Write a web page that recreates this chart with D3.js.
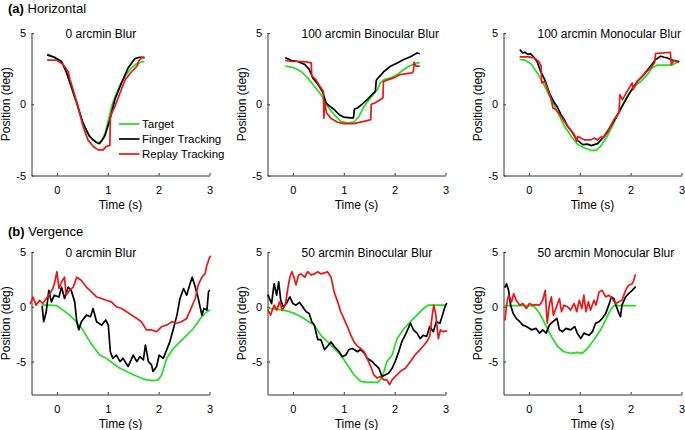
<!DOCTYPE html>
<html><head><meta charset="utf-8">
<script src="https://cdn.jsdelivr.net/npm/d3@7"></script>
<style>
body{margin:0;background:#fff}
svg{display:block}
text{font-family:"Liberation Sans",Arial,Helvetica,sans-serif;fill:#000}
</style>
</head><body>
<svg id="c" width="685" height="430"></svg>
<script>
// ---------- DATA ----------
const sectionLabels = [["(a)", "Horizontal"], ["(b)", "Vergence"]];
const panelTitles = ["0 arcmin Blur", "100 arcmin Binocular Blur", "100 arcmin Monocular Blur",
                     "0 arcmin Blur", "50 arcmin Binocular Blur", "50 arcmin Monocular Blur"];
const seriesNames = ["Target", "Finger Tracking", "Replay Tracking"];
const xTicks = [0, 1, 2, 3];
const yTicks = [-5, 0, 5];
const xDomain = [-0.5, 3];
const yDomainTop = [-5, 5];
const yDomainBottom = [-8, 5];
const xLabel = "Time (s)";
const yLabel = "Position (deg)";

// (a) Horizontal, 0 arcmin blur  [time s, position deg]
const h0_target = [[-0.18,3.5],[-0.05,3.3],[0.1,2.9],[0.2,2.2],[0.3,1.0],[0.4,-0.1],[0.5,-1.2],[0.6,-2.0],[0.7,-2.5],[0.8,-2.7],[0.88,-2.6],[0.95,-2.0],[1.02,-1.0],[1.08,-0.1],[1.15,0.6],[1.25,1.4],[1.35,2.0],[1.45,2.5],[1.55,2.8],[1.65,2.95],[1.71,3.0]];
const h0_finger = [[-0.18,3.45],[-0.05,3.3],[0.09,3.0],[0.18,2.3],[0.28,1.26],[0.39,0.1],[0.51,-1.3],[0.64,-2.25],[0.78,-2.7],[0.84,-2.76],[0.94,-2.25],[1.04,-1.1],[1.14,0.33],[1.27,1.5],[1.4,2.55],[1.53,3.2],[1.63,3.3],[1.71,3.3]];
const h0_replay = [[-0.18,3.1],[-0.01,3.1],[0.12,2.8],[0.22,2.3],[0.26,1.7],[0.32,1.0],[0.41,-0.1],[0.51,-1.5],[0.61,-2.5],[0.71,-2.95],[0.81,-3.2],[0.91,-3.2],[0.97,-2.95],[1.04,-2.9],[1.05,-0.85],[1.14,-0.15],[1.24,0.8],[1.34,1.7],[1.47,2.3],[1.58,2.7],[1.6,3.0],[1.66,3.25],[1.71,3.25]];

// (a) Horizontal, 100 arcmin binocular blur
const h100b_target = [[-0.14,2.67],[0.03,2.55],[0.16,2.3],[0.29,1.85],[0.42,1.26],[0.55,0.68],[0.68,-0.14],[0.81,-0.73],[0.94,-1.2],[1.07,-1.31],[1.2,-1.26],[1.3,-0.84],[1.4,-0.14],[1.53,0.45],[1.66,1.03],[1.72,1.5],[1.79,1.73],[1.92,1.85],[2.05,2.08],[2.18,2.44],[2.31,2.72],[2.44,2.9],[2.48,2.9]];
const h100b_finger = [[-0.14,3.25],[-0.03,3.07],[0.1,3.0],[0.23,2.8],[0.32,2.45],[0.39,1.85],[0.49,1.4],[0.58,0.9],[0.62,0.45],[0.65,0.1],[0.71,-0.1],[0.81,-0.37],[0.91,-0.73],[1.0,-0.9],[1.14,-0.96],[1.19,-0.96],[1.21,-0.33],[1.27,-0.26],[1.36,0],[1.46,0.33],[1.56,0.7],[1.62,0.9],[1.64,1.7],[1.69,1.9],[1.79,2.3],[1.92,2.67],[2.05,2.9],[2.18,3.14],[2.31,3.33],[2.44,3.6],[2.48,3.56]];
const h100b_replay = [[-0.14,3.07],[-0.03,3.0],[0.16,3.0],[0.26,2.97],[0.36,2.9],[0.37,2.0],[0.45,1.73],[0.55,1.15],[0.6,0.9],[0.61,-1.0],[0.62,0.2],[0.66,-0.6],[0.75,-1.0],[0.88,-1.26],[1.0,-1.36],[1.2,-1.36],[1.33,-1.26],[1.46,-1.15],[1.53,-1.08],[1.54,0],[1.62,0.1],[1.72,0.33],[1.77,0.45],[1.78,1.6],[1.88,1.73],[1.98,1.85],[2.11,2.08],[2.24,2.15],[2.34,2.2],[2.37,2.3],[2.38,2.95],[2.42,2.67],[2.48,2.67]];

// (a) Horizontal, 100 arcmin monocular blur
const h100m_target = [[-0.17,3.14],[-0.08,3.1],[0.05,2.8],[0.18,2.1],[0.31,1.26],[0.44,0.33],[0.57,-0.6],[0.7,-1.55],[0.83,-2.25],[0.96,-2.83],[1.09,-3.07],[1.22,-3.23],[1.32,-3.23],[1.41,-2.95],[1.54,-2.25],[1.67,-1.31],[1.8,-0.37],[1.93,0.56],[2.07,1.26],[2.2,1.6],[2.33,2.08],[2.42,2.55],[2.52,2.74],[2.65,2.74],[2.81,2.74],[2.94,3.0]];
const h100m_finger = [[-0.17,3.8],[-0.12,3.6],[-0.08,3.65],[-0.02,3.5],[0.03,3.55],[0.08,3.37],[0.16,3.0],[0.23,2.3],[0.31,1.73],[0.4,0.8],[0.5,0.1],[0.56,-0.2],[0.63,-0.73],[0.7,-1.1],[0.76,-1.55],[0.86,-2.0],[0.94,-2.5],[1.06,-2.83],[1.15,-2.8],[1.22,-2.9],[1.35,-2.76],[1.48,-2.25],[1.61,-1.55],[1.74,-0.73],[1.87,0.1],[2.0,0.9],[2.13,1.6],[2.26,2.08],[2.39,2.67],[2.49,3.14],[2.59,3.37],[2.66,3.3],[2.72,3.25],[2.81,3.1],[2.94,3.0]];
const h100m_replay = [[-0.17,3.33],[-0.02,3.33],[0.11,3.25],[0.19,3.0],[0.24,2.67],[0.25,1.5],[0.31,1.6],[0.37,1.03],[0.44,0.33],[0.47,-0.26],[0.53,-0.37],[0.63,-0.84],[0.76,-1.55],[0.89,-2.13],[0.94,-2.6],[0.96,-2.25],[1.09,-2.5],[1.22,-2.5],[1.28,-2.37],[1.35,-2.5],[1.41,-2.3],[1.48,-2.3],[1.54,-2.0],[1.67,-1.08],[1.77,-0.6],[1.79,0.68],[1.84,0.33],[1.93,0.9],[2.03,1.5],[2.05,1.03],[2.13,1.6],[2.26,2.08],[2.39,2.55],[2.47,2.9],[2.49,3.56],[2.65,3.6],[2.78,3.65],[2.8,2.8],[2.85,3.07],[2.94,2.95]];

// (b) Vergence, 0 arcmin blur
const v0_target = [[-0.29,0.15],[-0.14,0.15],[0,0.1],[0.12,-0.3],[0.25,-0.76],[0.38,-1.36],[0.51,-2.1],[0.61,-2.9],[0.71,-3.6],[0.84,-4.4],[0.97,-4.7],[1.1,-5.15],[1.24,-5.6],[1.37,-5.9],[1.5,-6.2],[1.63,-6.45],[1.76,-6.67],[1.89,-6.73],[1.99,-6.67],[2.06,-6.2],[2.16,-4.7],[2.29,-3.8],[2.42,-3.2],[2.55,-2.6],[2.68,-2.0],[2.82,-1.06],[2.91,-0.6],[3.0,-0.3]];
const v0_finger = [[-0.29,0],[-0.26,-1.36],[-0.21,-0.45],[-0.16,1.5],[-0.11,0.45],[-0.05,1.06],[0.04,0.9],[0.09,1.8],[0.15,0.76],[0.22,1.8],[0.28,1.5],[0.35,0.45],[0.39,-1.36],[0.43,-2.1],[0.48,-1.36],[0.58,-0.76],[0.66,-0.9],[0.71,-0.15],[0.78,-1.36],[0.88,-1.67],[0.96,-1.2],[1.01,-1.67],[1.05,-4.1],[1.1,-4.7],[1.17,-4.4],[1.24,-5.0],[1.3,-4.7],[1.4,-5.45],[1.5,-4.4],[1.57,-5.0],[1.63,-4.55],[1.7,-4.85],[1.74,-3.5],[1.8,-5.0],[1.86,-5.3],[1.89,-5.9],[1.96,-5.45],[2.01,-4.4],[2.09,-4.7],[2.16,-3.9],[2.22,-3.2],[2.29,-2.0],[2.36,-0.76],[2.42,0.76],[2.49,1.67],[2.55,1.06],[2.61,2.0],[2.66,2.7],[2.72,1.8],[2.78,0.76],[2.85,-0.76],[2.89,-0.15],[2.95,-0.3],[2.98,1.36],[3.0,1.5]];
const v0_replay = [[-0.52,0.3],[-0.47,0.9],[-0.41,0.15],[-0.34,0.6],[-0.28,0.3],[-0.21,0.76],[-0.14,1.2],[-0.08,1.67],[-0.05,2.1],[0,3.2],[0.04,1.67],[0.09,2.27],[0.15,2.7],[0.18,1.06],[0.25,1.5],[0.32,1.8],[0.39,2.7],[0.48,2.4],[0.58,1.8],[0.68,1.36],[0.78,0.9],[0.88,0.76],[0.97,0.6],[1.07,0.45],[1.17,0],[1.27,-0.15],[1.37,-0.45],[1.47,-0.76],[1.57,-1.06],[1.66,-1.36],[1.76,-2.1],[1.86,-2.1],[1.96,-2.27],[2.06,-1.8],[2.16,-1.67],[2.26,-1.36],[2.36,-1.5],[2.45,-1.36],[2.55,-1.06],[2.65,0],[2.72,0.76],[2.78,2.0],[2.85,2.7],[2.91,3.0],[2.95,3.8],[3.0,4.5],[3.02,4.6]];

// (b) Vergence, 50 arcmin binocular blur
const v50b_target = [[-0.49,-0.15],[-0.29,-0.24],[-0.1,-0.4],[0.03,-0.6],[0.16,-0.9],[0.29,-1.3],[0.42,-1.67],[0.55,-2.6],[0.68,-3.2],[0.81,-3.8],[0.94,-4.4],[1.07,-5.3],[1.2,-6.2],[1.33,-6.8],[1.46,-6.9],[1.66,-6.9],[1.75,-6.5],[1.85,-5.0],[1.95,-4.4],[2.05,-2.9],[2.18,-2.0],[2.31,-1.36],[2.44,-0.76],[2.57,-0.15],[2.66,0.15],[2.82,0.15],[3.0,0.15]];
const v50b_finger = [[-0.49,1.06],[-0.42,0.3],[-0.37,2.1],[-0.32,1.06],[-0.28,2.27],[-0.24,0.6],[-0.19,0],[-0.13,0.3],[-0.06,0.9],[0,0.3],[0.06,0.15],[0.13,0.4],[0.19,0],[0.26,-0.45],[0.32,-0.6],[0.37,-1.36],[0.42,-1.67],[0.49,-3.0],[0.55,-3.0],[0.62,-3.9],[0.68,-3.6],[0.75,-3.2],[0.81,-3.6],[0.91,-4.1],[0.97,-4.55],[1.04,-4.4],[1.1,-3.9],[1.17,-3.8],[1.27,-4.1],[1.33,-3.9],[1.4,-4.2],[1.46,-4.7],[1.56,-5.0],[1.62,-5.3],[1.69,-5.6],[1.75,-6.36],[1.82,-6.2],[1.88,-6.06],[1.95,-5.6],[2.01,-5.0],[2.08,-4.1],[2.14,-3.2],[2.24,-2.27],[2.31,-1.5],[2.37,-2.1],[2.44,-2.4],[2.5,-2.9],[2.56,-2.6],[2.63,-2.7],[2.69,-1.8],[2.76,-2.27],[2.82,-1.36],[2.89,-1.5],[2.94,-0.76],[2.99,0],[3.02,0.3]];
const v50b_replay = [[-0.49,-0.3],[-0.44,-0.76],[-0.37,0.15],[-0.32,-0.3],[-0.26,0.45],[-0.21,-0.3],[-0.15,0.15],[-0.1,1.67],[-0.06,2.7],[-0.02,3.2],[0.02,2.7],[0.06,2.0],[0.11,2.9],[0.16,3.0],[0.23,2.7],[0.29,3.2],[0.36,2.9],[0.42,3.0],[0.49,3.2],[0.55,3.0],[0.62,3.1],[0.68,3.2],[0.75,2.7],[0.81,1.36],[0.88,0.45],[0.94,-0.45],[1.0,-1.06],[1.07,-1.8],[1.14,-2.6],[1.2,-3.2],[1.27,-3.6],[1.33,-3.8],[1.4,-4.1],[1.46,-4.7],[1.53,-5.45],[1.59,-6.2],[1.66,-6.5],[1.72,-6.36],[1.79,-6.67],[1.85,-6.67],[1.9,-7.1],[1.95,-6.67],[2.01,-6.36],[2.11,-5.9],[2.21,-5.6],[2.31,-5.0],[2.4,-4.4],[2.5,-3.9],[2.56,-3.6],[2.63,-3.2],[2.69,-2.7],[2.74,-0.76],[2.77,0.15],[2.81,-0.76],[2.86,-2.9],[2.9,-2.1],[2.95,-2.27],[3.02,-2.2]];

// (b) Vergence, 50 arcmin monocular blur
const v50m_target = [[-0.47,0.1],[0.05,0.1],[0.11,0],[0.21,-0.6],[0.31,-1.5],[0.44,-2.7],[0.56,-3.6],[0.69,-4.1],[0.82,-4.25],[0.95,-4.15],[1.05,-4.25],[1.15,-3.8],[1.28,-3.0],[1.41,-2.1],[1.51,-1.2],[1.6,-0.3],[1.67,0.1],[2.09,0.1]];
const v50m_finger = [[-0.47,1.8],[-0.44,2.1],[-0.4,1.5],[-0.36,0.15],[-0.31,-0.6],[-0.25,-1.06],[-0.18,-1.36],[-0.12,-1.67],[-0.05,-1.8],[0.05,-2.1],[0.14,-1.97],[0.21,-2.4],[0.27,-2.1],[0.34,-2.4],[0.4,-1.67],[0.47,-1.36],[0.55,-1.06],[0.6,-2.1],[0.66,-2.27],[0.73,-1.97],[0.82,-2.1],[0.9,-1.8],[0.95,-2.4],[1.02,-2.9],[1.08,-2.4],[1.18,-2.6],[1.25,-2.27],[1.31,-1.5],[1.38,-1.36],[1.44,-1.06],[1.51,-0.6],[1.57,0.15],[1.62,0.9],[1.67,0.76],[1.71,0.15],[1.77,-0.6],[1.8,-0.9],[1.83,0.15],[1.9,0.9],[1.96,1.2],[2.03,1.5],[2.09,1.8]];
const v50m_replay = [[-0.47,-1.2],[-0.44,0.15],[-0.4,1.06],[-0.34,0.45],[-0.3,1.2],[-0.25,0.6],[-0.18,0.15],[-0.12,0.3],[-0.05,-0.15],[0.01,0.3],[0.08,0.15],[0.14,0.2],[0.21,0.15],[0.27,0.6],[0.32,1.5],[0.36,-1.5],[0.4,0.15],[0.44,0.9],[0.48,-0.76],[0.53,-0.15],[0.6,0.76],[0.64,-0.45],[0.69,0.15],[0.76,0],[0.82,-0.3],[0.89,0.3],[0.94,-0.45],[0.99,0.6],[1.04,-0.15],[1.08,1.06],[1.12,-0.45],[1.17,0.45],[1.21,-0.3],[1.28,0.6],[1.32,0.15],[1.38,1.36],[1.44,1.5],[1.51,0.9],[1.57,1.06],[1.64,0.76],[1.7,0.3],[1.77,0.45],[1.83,0.6],[1.9,1.5],[1.96,1.97],[2.03,2.1],[2.06,2.4],[2.09,2.9]];

// ---------- LAYOUT ----------
const W = 685, H = 430;
const colX = [31.5, 267.5, 503.5];
const plotW = 178;
const rows = [
  {top: 33, bottom: 175.5, dom: yDomainTop, label: sectionLabels[0], labelY: 13.3},
  {top: 252, bottom: 394.5, dom: yDomainBottom, label: sectionLabels[1], labelY: 236}
];
const colors = ["#1fe01f", "#000000", "#f01414"];
const fontTitle = 12, fontLabel = 12, fontLegend = 11.5, fontTick = 11;

const panels = [
  {r:0,c:0,title:panelTitles[0],s:[h0_target,h0_finger,h0_replay],legend:true},
  {r:0,c:1,title:panelTitles[1],s:[h100b_target,h100b_finger,h100b_replay]},
  {r:0,c:2,title:panelTitles[2],s:[h100m_target,h100m_finger,h100m_replay]},
  {r:1,c:0,title:panelTitles[3],s:[v0_target,v0_finger,v0_replay]},
  {r:1,c:1,title:panelTitles[4],s:[v50b_target,v50b_finger,v50b_replay]},
  {r:1,c:2,title:panelTitles[5],s:[v50m_target,v50m_finger,v50m_replay]}
];

const svg = d3.select("#c");
svg.append("rect").attr("width", W).attr("height", H).attr("fill", "#fff");

rows.forEach(r => {
  const t = svg.append("text").attr("x", 8).attr("y", r.labelY).style("font-size", "13px");
  t.append("tspan").style("font-weight", "bold").text(r.label[0]);
  t.append("tspan").text(" " + r.label[1]);
});

panels.forEach(p => {
  const row = rows[p.r];
  const x0 = colX[p.c];
  const x = d3.scaleLinear().domain(xDomain).range([x0, x0 + plotW]);
  const y = d3.scaleLinear().domain(row.dom).range([row.bottom, row.top]);
  const g = svg.append("g");

  const xa = g.append("g").attr("transform", `translate(0,${row.bottom})`)
    .call(d3.axisBottom(x).tickValues(xTicks).tickFormat(d3.format("d")).tickSizeInner(-2.5).tickSizeOuter(0).tickPadding(10.3));
  const ya = g.append("g").attr("transform", `translate(${x0},0)`)
    .call(d3.axisLeft(y).tickValues(yTicks).tickFormat(d3.format("d")).tickSizeInner(-2.5).tickSizeOuter(0).tickPadding(5.5));
  [xa, ya].forEach(a => {
    a.selectAll("text").style("font-size", fontTick + "px").style("font-family", '"Liberation Sans",Arial,sans-serif');
    a.selectAll("path,line").attr("stroke", "#333").attr("stroke-width", 1);
  });
  ya.selectAll("text").text(d => d < 0 ? "-" + Math.abs(d) : d);

  // axis titles
  g.append("text").attr("x", x0 + plotW / 2).attr("y", row.bottom + 33.5)
    .attr("text-anchor", "middle").style("font-size", fontLabel + "px").text(xLabel);
  g.append("text").attr("transform", `translate(${x0 - 21.5},${(row.top + row.bottom) / 2}) rotate(-90)`)
    .attr("text-anchor", "middle").style("font-size", fontLabel + "px").text(yLabel);
  // panel title
  g.append("text").attr("x", x0 + 34).attr("y", row.top + 5.2)
    .style("font-size", fontTitle + "px").text(p.title);

  const line = d3.line().x(d => x(d[0])).y(d => y(d[1]));
  p.s.forEach((data, i) => {
    g.append("path").datum(data).attr("d", line).attr("fill", "none")
      .attr("stroke", colors[i]).attr("stroke-width", 1.7)
      .attr("stroke-linejoin", "round").attr("stroke-linecap", "round");
  });

  if (p.legend) {
    const lg = g.append("g");
    const rowsY = [124, 139, 154];
    seriesNames.forEach((n, i) => {
      lg.append("line").attr("x1", x0 + 87.5).attr("x2", x0 + 108).attr("y1", rowsY[i]).attr("y2", rowsY[i])
        .attr("stroke", colors[i]).attr("stroke-width", 1.7);
      lg.append("text").attr("x", x0 + 110.5).attr("y", rowsY[i]).attr("dy", "0.35em")
        .style("font-size", fontLegend + "px").text(n);
    });
  }
});
</script>
</body></html>
